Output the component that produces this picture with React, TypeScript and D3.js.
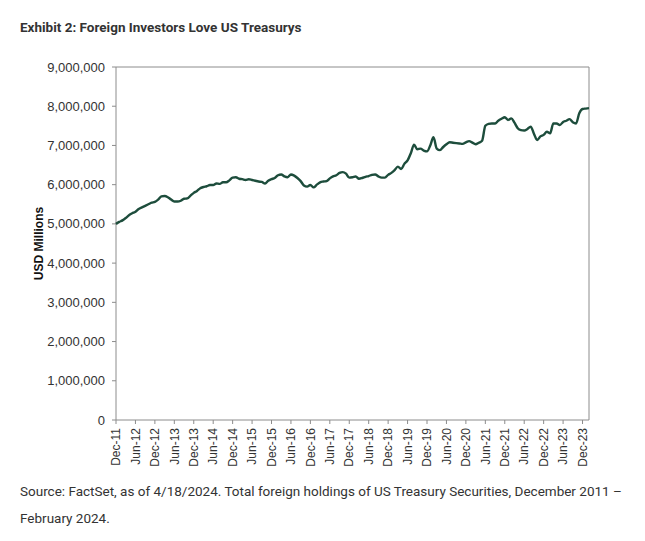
import React from "react";
import * as d3 from "d3";

const title = "Exhibit 2: Foreign Investors Love US Treasurys";
const yLabel = "USD Millions";
const footLine1 = "Source: FactSet, as of 4/18/2024. Total foreign holdings of US Treasury Securities, December 2011 –";
const footLine2 = "February 2024.";

// Monthly holdings, Dec 2011 .. Feb 2024, in USD trillions (x 1,000,000 USD millions)
const holdings: number[] = [
  5.00, 5.05, 5.09, 5.15, 5.22, 5.27, 5.31, 5.38, 5.42, 5.46, 5.50, 5.54,
  5.56, 5.62, 5.70, 5.71, 5.68, 5.62, 5.57, 5.57, 5.59, 5.64, 5.65, 5.72,
  5.79, 5.84, 5.91, 5.94, 5.96, 5.99, 5.99, 6.03, 6.02, 6.06, 6.06, 6.11,
  6.18, 6.19, 6.15, 6.14, 6.12, 6.14, 6.12, 6.10, 6.08, 6.07, 6.03, 6.10,
  6.14, 6.17, 6.24, 6.26, 6.21, 6.19, 6.26, 6.23, 6.17, 6.09, 5.98, 5.95,
  5.99, 5.93, 6.00, 6.06, 6.08, 6.09, 6.16, 6.21, 6.24, 6.30, 6.32, 6.28,
  6.18, 6.19, 6.21, 6.15, 6.17, 6.20, 6.22, 6.25, 6.26, 6.21, 6.18, 6.18,
  6.25, 6.30, 6.37, 6.46, 6.40, 6.53, 6.62, 6.80, 7.02, 6.90, 6.92, 6.87,
  6.85, 7.00, 7.21, 6.92, 6.88, 6.96, 7.03, 7.08, 7.07, 7.06, 7.05, 7.04,
  7.08, 7.11, 7.07, 7.03, 7.07, 7.12, 7.50, 7.55, 7.56, 7.56, 7.63, 7.68,
  7.72, 7.65, 7.69, 7.58, 7.44, 7.39, 7.38, 7.42, 7.48, 7.30, 7.14, 7.23,
  7.27, 7.35, 7.31, 7.56, 7.56, 7.52, 7.60, 7.63, 7.67, 7.59, 7.56, 7.82,
  7.93, 7.94, 7.95,
];

const startYear = 2011;
const startMonth = 11; // December (0-based)

const yTicks = [0, 1000000, 2000000, 3000000, 4000000, 5000000, 6000000, 7000000, 8000000, 9000000];

const monthNames = ["Jan", "Feb", "Mar", "Apr", "May", "Jun", "Jul", "Aug", "Sep", "Oct", "Nov", "Dec"];

type Pt = { m: number; v: number };

export default function App() {
  const W = 645;
  const H = 541;
  const left = 116;
  const right = 589;
  const top = 67;
  const bottom = 420;

  const data: Pt[] = holdings.map((h, i) => ({ m: i, v: h * 1000000 }));
  const x = d3.scaleLinear().domain([0, holdings.length - 1]).range([left, right]);
  const y = d3.scaleLinear().domain([0, 9000000]).range([bottom, top]);

  const line = d3
    .line<Pt>()
    .x((d) => x(d.m))
    .y((d) => y(d.v))
    .curve(d3.curveMonotoneX);

  const fmt = d3.format(",");

  const xTickIdx: number[] = [];
  for (let i = 0; i < holdings.length; i += 6) xTickIdx.push(i);
  const xLabel = (i: number) => {
    const total = startMonth + i;
    const yr = startYear + Math.floor(total / 12);
    const mo = total % 12;
    return `${monthNames[mo]}-${String(yr % 100).padStart(2, "0")}`;
  };

  const axisColor = "#8c8c8c";
  const textColor = "#333333";
  const tickFont = "'Liberation Sans', Arial, sans-serif";

  return (
    <svg width={W} height={H} style={{ position: "absolute", left: 0, top: 0, background: "#fff" }}>
      <rect x={0} y={0} width={W} height={H} fill="#fff" />
      <text x={20} y={32} fontFamily="Roboto, sans-serif" fontWeight={700} fontSize={13.5} fill={textColor}>
        {title}
      </text>

      {/* frame */}
      <line x1={left} x2={right} y1={top} y2={top} stroke={axisColor} strokeWidth={1} />
      <line x1={right} x2={right} y1={top} y2={bottom} stroke={axisColor} strokeWidth={1} />
      <line x1={left} x2={left} y1={top} y2={bottom} stroke={axisColor} strokeWidth={1} />
      <line x1={left} x2={right} y1={bottom} y2={bottom} stroke={axisColor} strokeWidth={1} />

      {/* y ticks */}
      {yTicks.map((t) => (
        <g key={t}>
          <line x1={left - 4} x2={left} y1={y(t)} y2={y(t)} stroke={axisColor} />
          <text
            x={left - 11}
            y={y(t)}
            dy="0.35em"
            textAnchor="end"
            fontFamily={tickFont}
            fontSize={13}
            fill={textColor}
          >
            {fmt(t)}
          </text>
        </g>
      ))}

      <text
        transform={`translate(43, ${(top + bottom) / 2}) rotate(-90)`}
        textAnchor="middle"
        fontFamily={tickFont}
        fontWeight={700}
        fontSize={12}
        fill="#111"
      >
        {yLabel}
      </text>

      {/* x ticks */}
      {xTickIdx.map((i) => (
        <g key={i}>
          <line x1={x(i)} x2={x(i)} y1={bottom} y2={bottom + 4} stroke={axisColor} />
          <text
            transform={`translate(${x(i)}, ${bottom + 8}) rotate(-90)`}
            textAnchor="end"
            dy="0.35em"
            fontFamily={tickFont}
            fontSize={12}
            fill={textColor}
          >
            {xLabel(i)}
          </text>
        </g>
      ))}

      <path d={line(data) || ""} fill="none" stroke="#1d4d3c" strokeWidth={2.4} strokeLinejoin="round" />

      <text x={20} y={496} fontFamily="Roboto, sans-serif" fontSize={13.5} fill={textColor}>
        {footLine1}
      </text>
      <text x={20} y={523} fontFamily="Roboto, sans-serif" fontSize={13.5} fill={textColor}>
        {footLine2}
      </text>
    </svg>
  );
}
